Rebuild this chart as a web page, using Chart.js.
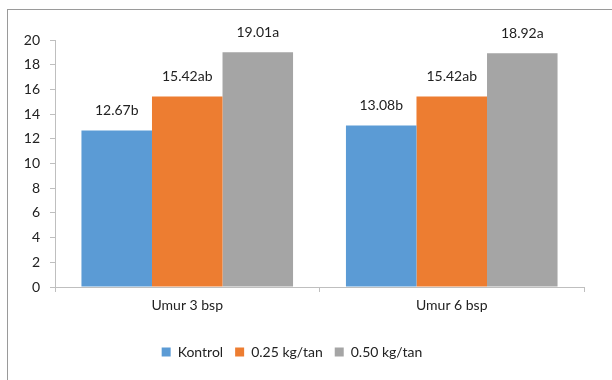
<!DOCTYPE html>
<html>
<head>
<meta charset="utf-8">
<script src="https://cdn.jsdelivr.net/npm/chart.js@4/dist/chart.umd.min.js"></script>
<style>
  html, body { margin: 0; padding: 0; background: #ffffff; }
  #wrap { width: 612px; height: 380px; position: relative; }
</style>
</head>
<body>
<div id="wrap"><canvas id="c" width="612" height="380"></canvas></div>
<script>
// Categories and series
const categories = ['Umur 3 bsp', 'Umur 6 bsp'];
const seriesNames = ['Kontrol', '0.25 kg/tan', '0.50 kg/tan'];
const kontrol = [12.67, 13.08];
const dosis025 = [15.42, 15.42];
const dosis050 = [19.01, 18.92];
// Significance letters shown after each value
const lettersKontrol = ['b', 'b'];
const letters025 = ['ab', 'ab'];
const letters050 = ['a', 'a'];
const yTicks = [0, 2, 4, 6, 8, 10, 12, 14, 16, 18, 20];

const colors = ['#5B9BD5', '#ED7D31', '#A5A5A5'];
const values = [kontrol, dosis025, dosis050];
const letters = [lettersKontrol, letters025, letters050];
const FONT = 'Lato, "Open Sans", sans-serif';
const FONT_SIZE = 14;
const TEXT = '#222222';

// Outer frame around the whole chart
const framePlugin = {
  id: 'frame',
  beforeDraw(chart) {
    const ctx = chart.ctx;
    ctx.save();
    ctx.fillStyle = '#ffffff';
    ctx.fillRect(0, 0, chart.width, chart.height);
    ctx.strokeStyle = '#9a9a9a';
    ctx.lineWidth = 1;
    ctx.strokeRect(7.5, 9.5, 640, 420);
    ctx.restore();
  }
};

// Value + letter labels above each bar
const barLabelPlugin = {
  id: 'barLabels',
  afterDatasetsDraw(chart) {
    const ctx = chart.ctx;
    ctx.save();
    ctx.font = FONT_SIZE + 'px ' + FONT;
    ctx.fillStyle = TEXT;
    ctx.textAlign = 'center';
    ctx.textBaseline = 'middle';
    chart.data.datasets.forEach((ds, di) => {
      const meta = chart.getDatasetMeta(di);
      meta.data.forEach((el, i) => {
        const txt = ds.data[i].toFixed(2) + letters[di][i];
        ctx.fillText(txt, el.x, el.y - 20);
      });
    });
    ctx.restore();
  }
};

new Chart(document.getElementById('c'), {
  type: 'bar',
  data: {
    labels: categories,
    datasets: seriesNames.map((name, i) => ({
      label: name,
      data: values[i],
      backgroundColor: colors[i],
      borderWidth: 0,
      categoryPercentage: 0.8,
      barPercentage: 1.0
    }))
  },
  options: {
    responsive: false,
    animation: false,
    layout: { padding: { left: 0, right: 28, top: 40, bottom: 11 } },
    scales: {
      x: {
        offset: true,
        border: { color: '#BFBFBF', width: 1 },
        grid: { offset: true, drawOnChartArea: false, tickLength: 5, color: '#BFBFBF' },
        ticks: { font: { family: FONT, size: FONT_SIZE }, color: TEXT, padding: 5 },
        afterFit(scale) { scale.height = 46; }
      },
      y: {
        min: 0,
        max: 20,
        border: { color: '#BFBFBF', width: 1 },
        grid: { drawOnChartArea: false, tickLength: 5, color: '#BFBFBF' },
        afterBuildTicks(scale) { scale.ticks = yTicks.map(v => ({ value: v })); },
        ticks: { font: { family: FONT, size: FONT_SIZE }, color: TEXT, padding: 10 },
        afterFit(scale) { scale.width = 55; }
      }
    },
    plugins: {
      tooltip: { enabled: false },
      legend: {
        position: 'bottom',
        labels: {
          font: { family: FONT, size: FONT_SIZE },
          color: TEXT,
          boxWidth: 9,
          boxHeight: 9,
          padding: 12
        }
      }
    }
  },
  plugins: [framePlugin, barLabelPlugin]
});
</script>
</body>
</html>
